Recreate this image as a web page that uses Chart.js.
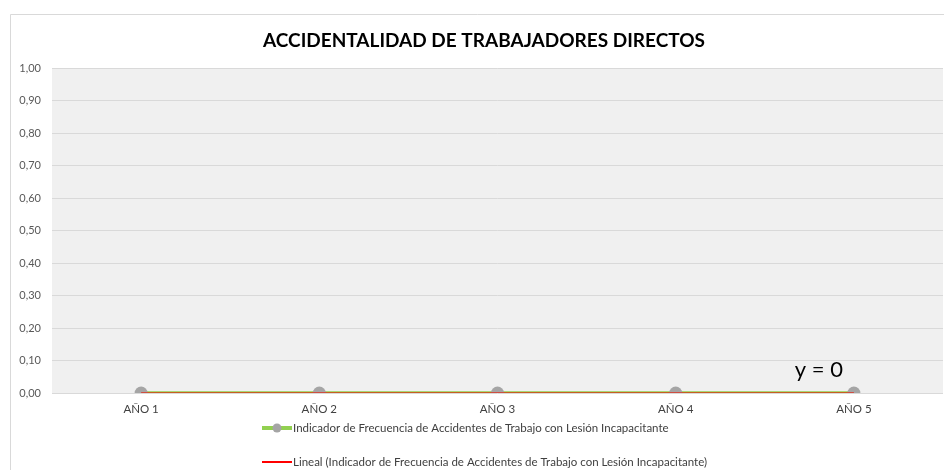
<!DOCTYPE html>
<html>
<head>
<meta charset="utf-8">
<script src="https://cdn.jsdelivr.net/npm/chart.js@4/dist/chart.umd.min.js"></script>
<style>
  html, body { margin: 0; padding: 0; background: #fff; overflow: hidden; }
  canvas { display: block; }
</style>
</head>
<body>
<canvas id="grafico" width="944" height="470"></canvas>
<script>
// Datos del gráfico
const anios = ["AÑO 1", "AÑO 2", "AÑO 3", "AÑO 4", "AÑO 5"];
const indicadorFrecuencia = [0, 0, 0, 0, 0];
const tendenciaLineal = [0, 0, 0, 0, 0];
const ecuacionTendencia = "y = 0";
const tituloGrafico = "ACCIDENTALIDAD DE TRABAJADORES DIRECTOS";
const nombreSerie = "Indicador de Frecuencia de Accidentes de Trabajo con Lesión Incapacitante";
const nombreTendencia = "Lineal (Indicador de Frecuencia de Accidentes de Trabajo con Lesión Incapacitante)";

const FUENTE = "Lato, 'Open Sans', sans-serif";

// Marco, fondo del área de trazado, título, ecuación y leyenda
const decoraciones = {
  id: "decoraciones",
  beforeDraw(chart) {
    const ctx = chart.ctx;
    const a = chart.chartArea;
    ctx.save();
    ctx.fillStyle = "#ffffff";
    ctx.fillRect(0, 0, chart.width, chart.height);
    ctx.strokeStyle = "#d9d9d9";
    ctx.lineWidth = 1;
    ctx.beginPath();
    ctx.moveTo(10.5, chart.height);
    ctx.lineTo(10.5, 14.5);
    ctx.lineTo(chart.width, 14.5);
    ctx.stroke();
    ctx.fillStyle = "#f0f0f0";
    ctx.fillRect(a.left, a.top, a.right - a.left, a.bottom - a.top);
    ctx.restore();
  },
  afterDraw(chart) {
    const ctx = chart.ctx;
    const x = chart.scales.x;
    const y = chart.scales.y;
    ctx.save();
    // título
    ctx.fillStyle = "#000000";
    ctx.font = "bold 19px " + FUENTE;
    ctx.textAlign = "center";
    ctx.textBaseline = "middle";
    ctx.fillText(tituloGrafico, 484, 41);

    // ecuación de la línea de tendencia
    const ultimo = anios.length - 1;
    ctx.font = "22px " + FUENTE;
    ctx.fillStyle = "#000000";
    ctx.textAlign = "right";
    ctx.fillText(ecuacionTendencia, x.getPixelForValue(ultimo) - 11, y.getPixelForValue(tendenciaLineal[ultimo]) - 23);

    // leyenda
    ctx.font = "11.5px " + FUENTE;
    ctx.textAlign = "left";
    const lx = 262, ly1 = 428, ly2 = 462;
    ctx.lineCap = "butt";
    ctx.strokeStyle = "#92d050";
    ctx.lineWidth = 4;
    ctx.beginPath(); ctx.moveTo(lx, ly1); ctx.lineTo(lx + 30, ly1); ctx.stroke();
    ctx.fillStyle = "#a5a5a5";
    ctx.beginPath(); ctx.arc(lx + 15, ly1, 4.5, 0, Math.PI * 2); ctx.fill();
    ctx.strokeStyle = "#ff0000";
    ctx.lineWidth = 2;
    ctx.beginPath(); ctx.moveTo(lx, ly2); ctx.lineTo(lx + 30, ly2); ctx.stroke();
    ctx.fillStyle = "#404040";
    ctx.fillText(nombreSerie, lx + 31, ly1);
    ctx.fillText(nombreTendencia, lx + 31, ly2);
    ctx.restore();
  }
};

const config = {
  type: "line",
  data: {
    labels: anios,
    datasets: [
      {
        label: nombreTendencia,
        data: tendenciaLineal,
        borderColor: "rgba(235, 20, 0, 0.6)",
        borderWidth: 2,
        pointRadius: 0,
        order: 0,
      },
      {
        label: nombreSerie,
        data: indicadorFrecuencia,
        borderColor: "#92d050",
        borderWidth: 3.5,
        pointRadius: 6.5,
        pointBackgroundColor: "#a5a5a5",
        pointBorderColor: "#a5a5a5",
        pointBorderWidth: 0,
        order: 1,
      },
    ],
  },
  options: {
    responsive: false,
    animation: false,
    layout: { autoPadding: false, padding: { top: 68, right: 1, left: 0, bottom: 0 } },
    plugins: {
      legend: { display: false },
      title: { display: false },
      tooltip: { enabled: false },
    },
    scales: {
      x: {
        offset: true,
        grid: { display: false, drawTicks: false },
        border: { display: false },
        ticks: { color: "#404040", font: { family: FUENTE, size: 11.5 }, padding: 9, maxRotation: 0 },
        afterFit(scale) {
          scale.height = 77;
          scale.paddingLeft = 0;
          scale.paddingRight = 0;
        },
      },
      y: {
        min: 0,
        max: 1,
        grid: { color: "#d9d9d9", lineWidth: 1, drawTicks: false },
        border: { display: false },
        ticks: {
          stepSize: 0.1,
          color: "#595959",
          font: { family: FUENTE, size: 11 },
          padding: 11,
          callback: (v) => v.toFixed(2).replace(".", ","),
        },
        afterFit(scale) { scale.width = 52; },
      },
    },
  },
  plugins: [decoraciones],
};

const grafico = new Chart(document.getElementById("grafico"), config);
</script>
</body>
</html>
